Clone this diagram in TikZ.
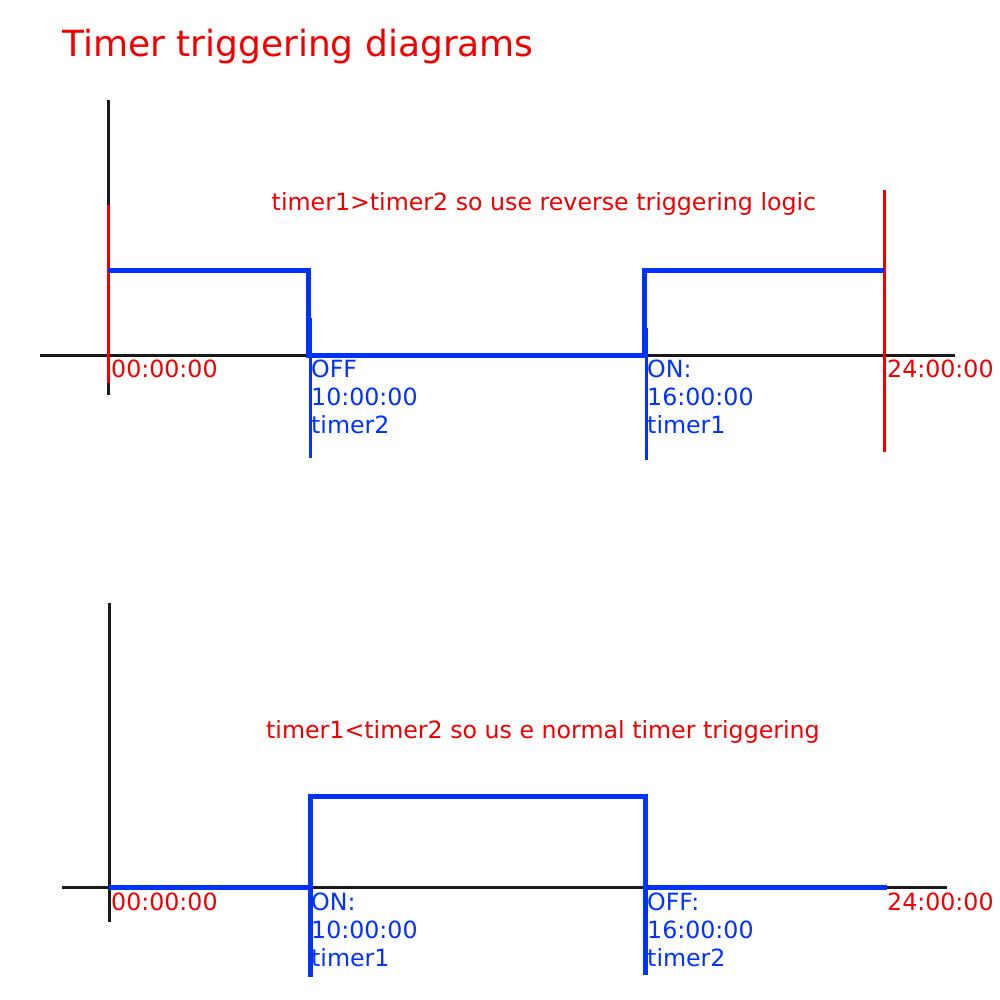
\documentclass[tikz,border=0pt]{standalone}
\usepackage{fontspec}
\setmainfont{DejaVu Sans}
\usetikzlibrary{positioning}
\definecolor{cred}{HTML}{F00000}
\definecolor{cblue}{HTML}{0033FF}
\definecolor{cblack}{HTML}{1A1A1A}
\tikzset{
  every picture/.style={x=1pt, y=-1pt},
  axis/.style={draw=cblack, line width=3pt},
  wave/.style={draw=cblue, line width=5pt},
  redmark/.style={draw=cred, line width=3pt},
  bluemark/.style={draw=cblue, line width=3pt},
  lbl/.style={font=\fontsize{23.7}{28}\selectfont, inner sep=0pt, anchor=north west, align=left, text=#1},
  lbl/.default=cblue,
  title/.style={font=\fontsize{36}{40}\selectfont, text=cred, inner sep=0pt},
  note/.style={font=\fontsize{23.7}{28}\selectfont, text=cred, inner sep=0pt},
}

\begin{document}
\begin{tikzpicture}
  \useasboundingbox (0,0) rectangle (1000,1000);
  \node[title, anchor=west] (head) at (62,47) {Timer triggering diagrams};

  % reverse logic (timer1 > timer2)
  \coordinate (ya0) at (108,100);  \coordinate (ya1) at (108,395);
  \coordinate (xa0) at (40,355);   \coordinate (xa1) at (955,355);
  \draw[axis] (ya0) -- (ya1);
  \draw[axis] (xa0) -- (xa1);
  \coordinate (ra0) at (108,205);  \coordinate (ra1) at (108,383);
  \coordinate (rb0) at (884,190);  \coordinate (rb1) at (884,452);
  \draw[redmark] (ra0) -- (ra1);
  \draw[redmark] (rb0) -- (rb1);
  \coordinate (ba0) at (310,318);  \coordinate (ba1) at (310,458);
  \coordinate (bb0) at (646,328);  \coordinate (bb1) at (646,460);
  \draw[bluemark] (ba0) -- (ba1);
  \draw[bluemark] (bb0) -- (bb1);
  \coordinate (wa) at (108,270);  \coordinate (wb) at (308,270);
  \coordinate (wc) at (308,355);  \coordinate (wd) at (644,355);
  \coordinate (we) at (644,270);  \coordinate (wf) at (884,270);
  \draw[wave] (wa) -- (wb) -- (wc) -- (wd) -- (we) -- (wf);
  \node[note] (noteA) at (544,204) {timer1>timer2 so use reverse triggering logic};
  \node[lbl=cred] (startA) at (111,360) {00:00:00};
  \node[lbl] (offA) at (311,360) {OFF\\10:00:00\\timer2};
  \node[lbl] (onA) at (647,360) {ON:\\16:00:00\\timer1};
  \node[lbl=cred] (endA) at (887,360) {24:00:00};

  % normal logic (timer1 < timer2)
  \coordinate (yb0) at (109,603);  \coordinate (yb1) at (109,922);
  \coordinate (xb0) at (62,887);   \coordinate (xb1) at (947,887);
  \draw[axis] (yb0) -- (yb1);
  \draw[axis] (xb0) -- (xb1);
  \coordinate (va) at (109,887);  \coordinate (vb) at (310,887);
  \coordinate (vc) at (310,796);  \coordinate (vd) at (645,796);
  \coordinate (ve) at (645,887);  \coordinate (vf) at (887,887);
  \coordinate (vg) at (310,977);  \coordinate (vh) at (645,975);
  \draw[wave] (va) -- (vb) -- (vc) -- (vd) -- (ve) -- (vf);
  \draw[wave] (vb) -- (vg);
  \draw[wave] (ve) -- (vh);
  \node[note] (noteB) at (543,732) {timer1<timer2 so us e normal timer triggering};
  \node[lbl=cred] (startB) at (111,893) {00:00:00};
  \node[lbl] (onB) at (311,893) {ON:\\10:00:00\\timer1};
  \node[lbl] (offB) at (647,893) {OFF:\\16:00:00\\timer2};
  \node[lbl=cred] (endB) at (887,893) {24:00:00};
\end{tikzpicture}
\end{document}
